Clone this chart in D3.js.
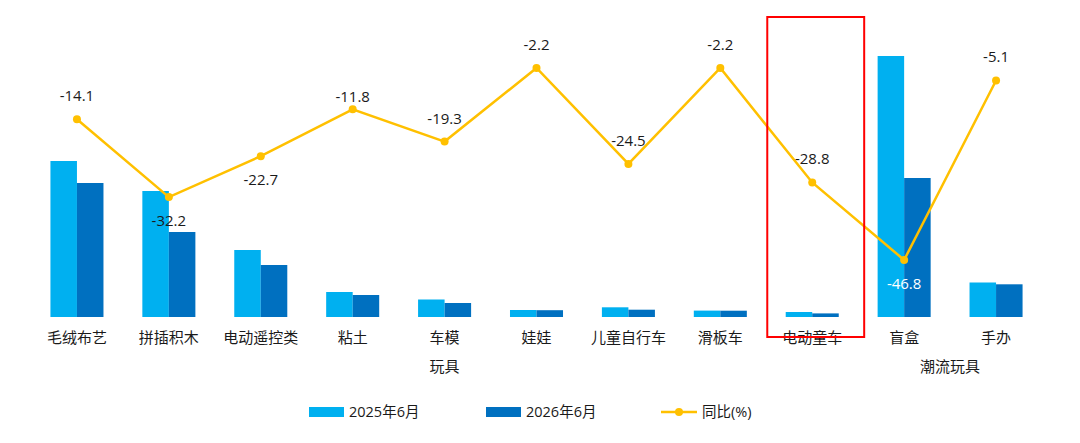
<!DOCTYPE html>
<html>
<head>
<meta charset="utf-8">
<script src="https://cdn.jsdelivr.net/npm/d3@7"></script>
<style>
  body { margin: 0; background: #fff; }
  svg text { font-family: "Open Sans", "Noto Sans CJK SC", sans-serif; fill: #1a1a1a; }
</style>
</head>
<body>
<svg width="1080" height="443"></svg>
<script>
// categories and series
const categories = ["毛绒布艺", "拼插积木", "电动遥控类", "粘土", "车模", "娃娃", "儿童自行车", "滑板车", "电动童车", "盲盒", "手办"];
const sales2025 = [15.6, 12.6, 6.7, 2.5, 1.75, 0.7, 0.97, 0.64, 0.5, 26.1, 3.45];
const sales2026 = [13.4, 8.5, 5.2, 2.2, 1.4, 0.68, 0.73, 0.63, 0.36, 13.9, 3.27];
const yoy = [-14.1, -32.2, -22.7, -11.8, -19.3, -2.2, -24.5, -2.2, -28.8, -46.8, -5.1];
// where each yoy label sits: up / down (and a nudge for -11.8)
const labelPos = ["up", "down", "down", "upNear", "up", "up", "up", "up", "up", "downWhite", "up"];
const groups = [
  { name: "玩具", from: 0, to: 8 },
  { name: "潮流玩具", from: 9, to: 10 }
];
const seriesNames = ["2025年6月", "2026年6月", "同比(%)"];
const highlight = "电动童车";

const colLight = "#00B0F0", colDark = "#0070C0", colLine = "#FFC000";

const svg = d3.select("svg");

const x = d3.scaleBand()
    .domain(categories)
    .range([31, 1042])
    .paddingInner(0.423)
    .paddingOuter(0.2115);

const y = d3.scaleLinear().domain([0, 30]).range([317, 17]);
const yLine = d3.scaleLinear().domain([-50, 0]).range([273.75, 58.5]);

const bw = x.bandwidth() / 2;

// bars
const gBars = svg.append("g");
gBars.selectAll(".b25")
    .data(categories)
    .enter().append("rect")
    .attr("x", d => x(d))
    .attr("y", (d, i) => y(sales2025[i]))
    .attr("width", bw)
    .attr("height", (d, i) => y(0) - y(sales2025[i]))
    .attr("fill", colLight);

gBars.selectAll(".b26")
    .data(categories)
    .enter().append("rect")
    .attr("x", d => x(d) + bw)
    .attr("y", (d, i) => y(sales2026[i]))
    .attr("width", bw)
    .attr("height", (d, i) => y(0) - y(sales2026[i]))
    .attr("fill", colDark);

// category labels
const cx = d => x(d) + x.bandwidth() / 2;
svg.append("g").selectAll("text")
    .data(categories)
    .enter().append("text")
    .attr("x", cx)
    .attr("y", 343)
    .attr("text-anchor", "middle")
    .attr("font-size", 15)
    .text(d => d);

svg.append("g").selectAll("text")
    .data(groups)
    .enter().append("text")
    .attr("x", g => (cx(categories[g.from]) + cx(categories[g.to])) / 2)
    .attr("y", 372)
    .attr("text-anchor", "middle")
    .attr("font-size", 15)
    .text(g => g.name);

// yoy line
const line = d3.line()
    .x((d, i) => cx(categories[i]))
    .y(d => yLine(d));

svg.append("path")
    .datum(yoy)
    .attr("d", line)
    .attr("fill", "none")
    .attr("stroke", colLine)
    .attr("stroke-width", 2.5);

svg.append("g").selectAll("circle")
    .data(yoy)
    .enter().append("circle")
    .attr("cx", (d, i) => cx(categories[i]))
    .attr("cy", d => yLine(d))
    .attr("r", 4)
    .attr("fill", colLine);

svg.append("g").selectAll("text")
    .data(yoy)
    .enter().append("text")
    .attr("x", (d, i) => cx(categories[i]))
    .attr("y", (d, i) => {
      const p = labelPos[i];
      if (p === "up") return yLine(d) - 18;
      if (p === "upNear") return yLine(d) - 7;
      return yLine(d) + 29;
    })
    .attr("text-anchor", "middle")
    .attr("font-size", 15)
    .style("fill", (d, i) => labelPos[i] === "downWhite" ? "#fff" : "#1a1a1a")
    .text(d => d.toFixed(1));

// red highlight box
svg.append("rect")
    .attr("x", x(highlight) - x.step() * x.paddingInner() / 2 + 1)
    .attr("y", 17)
    .attr("width", x.step() + 5)
    .attr("height", 320)
    .attr("fill", "none")
    .attr("stroke", "#FF0000")
    .attr("stroke-width", 2);

// legend
const legend = svg.append("g");
const lgX = [309, 486, 661];
legend.append("rect").attr("x", lgX[0]).attr("y", 407).attr("width", 35).attr("height", 10).attr("fill", colLight);
legend.append("rect").attr("x", lgX[1]).attr("y", 407).attr("width", 35).attr("height", 10).attr("fill", colDark);
legend.append("line").attr("x1", lgX[2]).attr("x2", lgX[2] + 36).attr("y1", 412).attr("y2", 412)
    .attr("stroke", colLine).attr("stroke-width", 2.5);
legend.append("circle").attr("cx", lgX[2] + 18).attr("cy", 412).attr("r", 4).attr("fill", colLine);
legend.selectAll("text")
    .data(seriesNames)
    .enter().append("text")
    .attr("x", (d, i) => lgX[i] + (i === 2 ? 41 : 40))
    .attr("y", 417)
    .attr("font-size", 14.5)
    .text(d => d);
</script>
</body>
</html>
